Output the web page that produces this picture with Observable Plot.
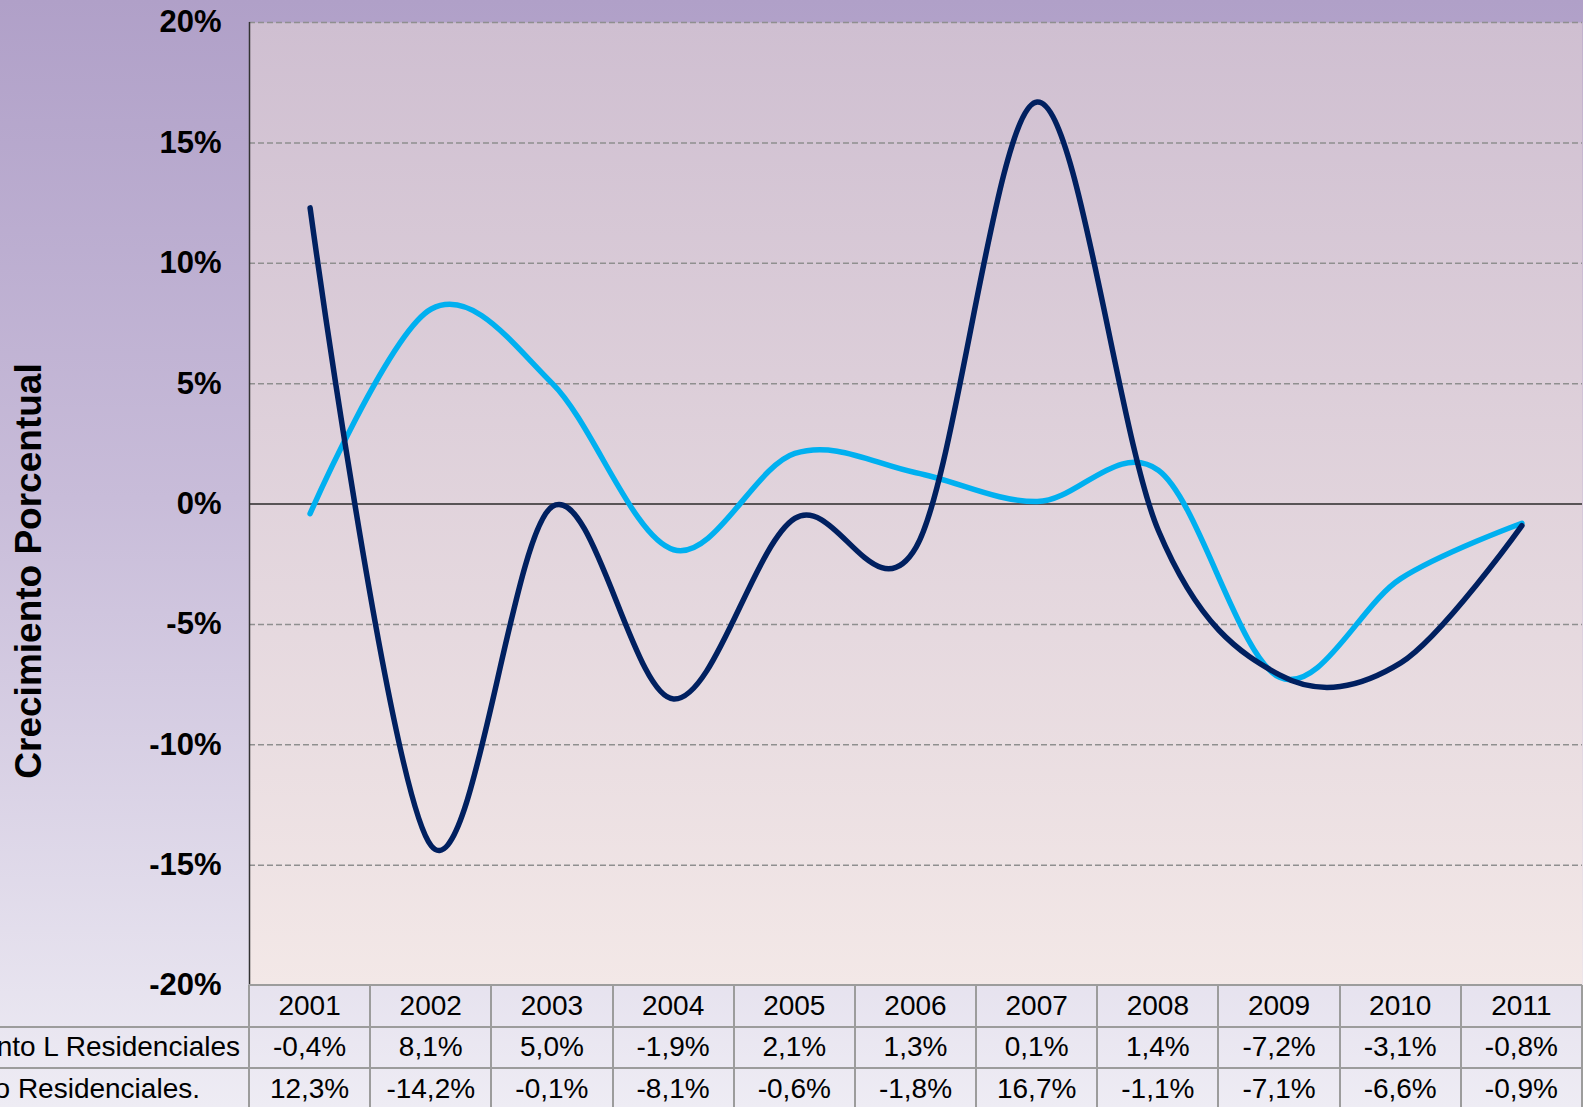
<!DOCTYPE html>
<html><head><meta charset="utf-8">
<script src="https://cdn.jsdelivr.net/npm/d3@7"></script>
<script src="https://cdn.jsdelivr.net/npm/@observablehq/plot@0.6"></script>
<style>
html,body{margin:0;padding:0;}
#page{position:relative;width:1583px;height:1107px;overflow:hidden;background:linear-gradient(to bottom,#b0a0c8 0%,#c8bcd9 45%,#eeecf4 100%);font-family:"Liberation Sans",Arial,sans-serif;}
#chart{position:absolute;left:0;top:0;}
#ylabel{position:absolute;left:29px;top:571px;transform:translate(-50%,-50%) rotate(-90deg);font-size:37px;font-weight:bold;white-space:nowrap;color:#000;}
.cell{position:absolute;box-sizing:border-box;font-size:28px;color:#000;display:flex;align-items:center;justify-content:center;white-space:nowrap;}
.cell.lab{justify-content:flex-end;}
.ln{position:absolute;background:#9c9c9c;}
</style></head><body>
<div id="page"><div id="chart"></div><div id="table"></div><div id="ylabel">Crecimiento Porcentual</div></div>
<script>
const years = [2001, 2002, 2003, 2004, 2005, 2006, 2007, 2008, 2009, 2010, 2011];
const seriesNames = ["Crecimiento L Residenciales", "Crecimiento Residenciales."];
const seriesL = [-0.4, 8.1, 5.0, -1.9, 2.1, 1.3, 0.1, 1.4, -7.2, -3.1, -0.8];
const seriesR = [12.3, -14.2, -0.1, -8.1, -0.6, -1.8, 16.7, -1.1, -7.1, -6.6, -0.9];
const yTicks = [-20, -15, -10, -5, 0, 5, 10, 15, 20];
const colors = ["#00b0f0", "#002060"];

const dataL = years.map((yr, i) => ({year: yr, value: seriesL[i]}));
const dataR = years.map((yr, i) => ({year: yr, value: seriesR[i]}));

const chart = Plot.plot({
  width: 1583,
  height: 987,
  marginTop: 22,
  marginBottom: 2,
  marginLeft: 249,
  marginRight: 1,
  style: {background: "transparent", overflow: "visible", color: "#000", fontFamily: "'Liberation Sans', Arial, sans-serif"},
  x: {type: "linear", domain: [years[0] - 0.5, years[years.length - 1] + 0.5], axis: null},
  y: {domain: [-20, 20], axis: null},
  marks: [
    Plot.frame({fill: "url(#plotbg)"}),
    Plot.ruleY(yTicks.filter(d => d !== 0 && d !== -20), {stroke: "#8f8f8f", strokeWidth: 1.5, strokeDasharray: "6,3"}),
    Plot.ruleY([0], {stroke: "#2a2a2a", strokeWidth: 1.5}),
    Plot.ruleX([years[0] - 0.5], {y1: -20, y2: 20, stroke: "#333", strokeWidth: 1.5}),
    Plot.axisY({ticks: yTicks, tickFormat: d => d + "%", tickSize: 0, tickPadding: 28, fontSize: 31, fontWeight: "bold", label: null}),
    Plot.line(dataL, {x: "year", y: "value", stroke: colors[0], strokeWidth: 5.5, curve: "cardinal", tension: 0, strokeLinecap: "round", strokeLinejoin: "round"}),
    Plot.line(dataR, {x: "year", y: "value", stroke: colors[1], strokeWidth: 5.5, curve: "cardinal", tension: 0, strokeLinecap: "round", strokeLinejoin: "round"})
  ]
});

const svgSel = d3.select(chart);
const grad = svgSel.insert("defs", ":first-child").append("linearGradient")
  .attr("id", "plotbg").attr("x1", 0).attr("y1", 0).attr("x2", 0).attr("y2", 1);
grad.append("stop").attr("offset", "0%").attr("stop-color", "#cfbfd1");
grad.append("stop").attr("offset", "100%").attr("stop-color", "#f3e8e7");
document.getElementById("chart").appendChild(chart);

// Data table below the chart, aligned to the chart's x scale
const xs = chart.scale("x");
const ys = chart.scale("y");
const tableTop = ys.apply(-20);
const rowH = 41.5;
const table = document.getElementById("table");
const fmt = v => v.toFixed(1).replace(".", ",") + "%";
const edges = years.map(yr => xs.apply(yr - 0.5)).concat([xs.apply(years[years.length - 1] + 0.5)]);
const rows = [years.map(String), seriesL.map(fmt), seriesR.map(fmt)];
const labels = ["", seriesNames[0], seriesNames[1]];
const labelPad = [0, 9, 49];

function add(cls, style, text) {
  const d = document.createElement("div");
  d.className = cls;
  Object.assign(d.style, style);
  if (text != null) d.textContent = text;
  table.appendChild(d);
}
rows.forEach((row, r) => {
  const top = tableTop + r * rowH;
  if (labels[r]) add("cell lab", {left: "-500px", width: (edges[0] + 500) + "px", paddingRight: labelPad[r] + "px", top: top + "px", height: rowH + "px"}, labels[r]);
  row.forEach((t, c) => {
    add("cell", {left: edges[c] + "px", width: (edges[c + 1] - edges[c]) + "px", top: top + "px", height: rowH + "px"}, t);
  });
});
// borders
const bottom = tableTop + rows.length * rowH;
add("ln", {left: edges[0] + "px", width: (edges[edges.length - 1] - edges[0]) + "px", top: (tableTop - 1) + "px", height: "2px"});
for (let r = 1; r <= rows.length; r++) {
  add("ln", {left: "0px", width: edges[edges.length - 1] + "px", top: (tableTop + r * rowH - 1) + "px", height: "2px"});
}
edges.forEach(e => add("ln", {left: (e - 1) + "px", width: "2px", top: tableTop + "px", height: (bottom - tableTop) + "px"}));
</script>
</body></html>
